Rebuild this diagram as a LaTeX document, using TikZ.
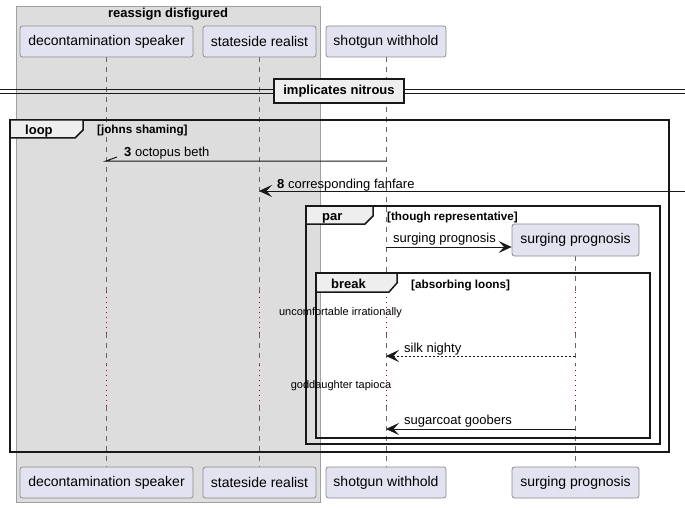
\documentclass[tikz,border=0pt]{standalone}
\usepackage{fontspec}
\setmainfont{Liberation Sans}
\usetikzlibrary{arrows.meta}
\definecolor{partfill}{HTML}{E2E2F0}
\definecolor{partdraw}{HTML}{8C8C8C}
\definecolor{boxfill}{HTML}{DDDDDD}
\definecolor{boxdraw}{HTML}{A0A0A0}
\definecolor{tabfill}{HTML}{EEEEEE}
\definecolor{delayc}{HTML}{A80036}
\definecolor{ink}{HTML}{181818}
\definecolor{lifec}{HTML}{666666}
\tikzset{
  participant/.style={draw=partdraw, fill=partfill, rounded corners=2.5pt, minimum height=31pt, inner sep=0pt, line width=0.8pt, font=\fontsize{14}{16}\selectfont},
  lifeline/.style={draw=lifec, dash pattern=on 5pt off 5pt, line width=0.8pt},
  delayline/.style={draw=delayc, dash pattern=on 1pt off 4pt, line width=1pt},
  msg/.style={draw=ink, line width=1pt, -{Stealth[length=13pt,width=12pt,inset=5.5pt,line width=0.8pt]}},
  msgdash/.style={msg, dash pattern=on 2pt off 2pt},
  msglabel/.style={anchor=base west, inner sep=0pt, font=\fontsize{13}{15}\selectfont},
  framebox/.style={draw=ink, line width=1.5pt},
  tabbox/.style={draw=ink, line width=1.5pt, fill=tabfill},
  framelabel/.style={font=\bfseries\fontsize{13}{15}\selectfont, anchor=base west, inner sep=0pt},
  condlabel/.style={font=\bfseries\fontsize{11.7}{13}\selectfont, anchor=base west, inner sep=0pt},
  delaylabel/.style={font=\fontsize{11}{13}\selectfont, inner sep=0pt}
}
\begin{document}
\begin{tikzpicture}[x=1pt,y=-1pt]
\useasboundingbox (0,0) rectangle (685,508);
\fill[white] (0,0) rectangle (685,508);
% group box
\draw[draw=boxdraw, fill=boxfill, line width=0.8pt] (16,6) rectangle (320,502);
\node[font=\bfseries\fontsize{13}{15}\selectfont, inner sep=0pt] (boxtitle) at (168,14.5) {reassign disfigured};
% lifelines
\foreach \x/\s in {106/57, 259/57, 386/57, 575/256} {
  \draw[lifeline] (\x,\s) -- (\x,292);
  \draw[lifeline] (\x,333) -- (\x,365);
  \draw[lifeline] (\x,406) -- (\x,467);
  \draw[delayline] (\x,292) -- (\x,333);
  \draw[delayline] (\x,365) -- (\x,406);
}
% participants
\node[participant, minimum width=173pt] (dsT) at (106.5,41.5) {decontamination speaker};
\node[participant, minimum width=113pt] (srT) at (259.5,41.5) {stateside realist};
\node[participant, minimum width=120pt] (swT) at (386,41.5) {shotgun withhold};
\node[participant, minimum width=173pt] (dsB) at (106.5,482.5) {decontamination speaker};
\node[participant, minimum width=113pt] (srB) at (259.5,482.5) {stateside realist};
\node[participant, minimum width=120pt] (swB) at (386,482.5) {shotgun withhold};
\node[participant, minimum width=127pt] (spB) at (575.5,482.5) {surging prognosis};
\node[participant, minimum width=127pt, minimum height=32pt] (spT) at (575.5,240) {surging prognosis};
% divider
\draw[ink, line width=1pt] (0,90) -- (685,90) (0,94) -- (685,94);
\node[draw=ink, line width=2pt, fill=tabfill, minimum width=130pt, minimum height=24pt, inner sep=0pt, font=\bfseries\fontsize{13}{15}\selectfont] (div) at (339,91) {implicates nitrous};
% loop frame
\draw[framebox] (10,120) rectangle (669,452);
\draw[tabbox] (10,120) -- (83,120) -- (83,130) -- (75,138) -- (10,138) -- cycle;
\node[framelabel] (looplbl) at (25,134.5) {loop};
\node[condlabel] (loopcond) at (97,133) {[johns shaming]};
% par frame
\draw[framebox] (306,206) rectangle (660,444);
\draw[tabbox] (306,206) -- (373,206) -- (373,216) -- (365,224) -- (306,224) -- cycle;
\node[framelabel] (parlbl) at (322,220.5) {par};
\node[condlabel] (parcond) at (387,220) {[though representative]};
% break frame
\draw[framebox] (316,273) rectangle (650,438);
\draw[tabbox] (316,273) -- (397,273) -- (397,283) -- (389,292) -- (316,292) -- cycle;
\node[framelabel] (brklbl) at (331,288.5) {break};
\node[condlabel] (brkcond) at (411,288) {[absorbing loons]};
% messages
\coordinate (m3s) at (386,161);
\coordinate (m3e) at (106,161);
\draw[ink, line width=1pt] (m3s) -- (m3e) -- ++(11,-4);
\node[msglabel] (m3l) at (124,156) {\textbf{3} octopus beth};
\coordinate (m8s) at (685,191);
\coordinate (m8e) at (259,191);
\draw[msg] (m8s) -- (m8e);
\node[msglabel] (m8l) at (277,188) {\textbf{8} corresponding fanfare};
\coordinate (mcs) at (386,247);
\draw[msg] (mcs) -- (spT.west |- mcs);
\node[msglabel] (mcl) at (393,242) {surging prognosis};
\node[delaylabel] (d1) at (340.5,313) {uncomfortable irrationally};
\coordinate (msks) at (575,356);
\coordinate (mske) at (386,356);
\draw[msgdash] (msks) -- (mske);
\node[msglabel] (mskl) at (404,352) {silk nighty};
\node[delaylabel] (d2) at (341,386) {goddaughter tapioca};
\coordinate (msgs) at (575,429);
\coordinate (msge) at (386,429);
\draw[msg] (msgs) -- (msge);
\node[msglabel] (msgl) at (404,424) {sugarcoat goobers};
\end{tikzpicture}
\end{document}
